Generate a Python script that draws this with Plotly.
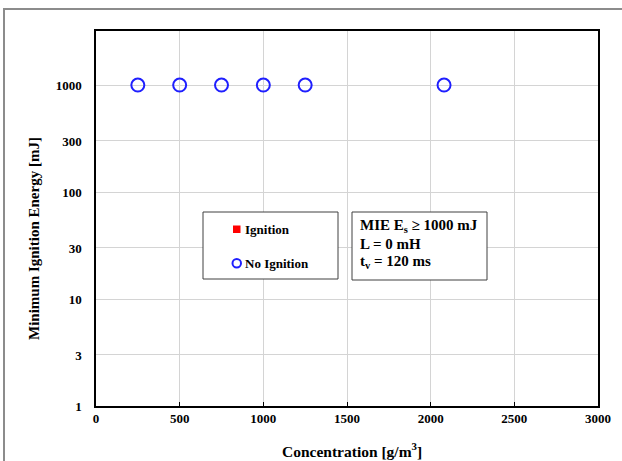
import plotly.graph_objects as go

# Dust explosion test series: concentration vs. ignition energy
ign_conc = []            # g/m3, tests that ignited
ign_energy = []          # mJ
no_ign_conc = [250, 500, 750, 1000, 1250, 2080]   # g/m3, tests without ignition
no_ign_energy = [1000, 1000, 1000, 1000, 1000, 1000]  # mJ

y_ticks = [1, 3, 10, 30, 100, 300, 1000]
x_ticks = [0, 500, 1000, 1500, 2000, 2500, 3000]

SERIF = "Liberation Serif, Times New Roman, serif"
RED = "#ff0000"
BLUE = "#1f1fff"

fig = go.Figure()
fig.add_trace(go.Scatter(
    x=ign_conc, y=ign_energy, mode="markers", name="Ignition",
    showlegend=False,
    marker=dict(symbol="square", size=8, color=RED),
))
fig.add_trace(go.Scatter(
    x=no_ign_conc, y=no_ign_energy, mode="markers", name="No Ignition",
    showlegend=False,
    marker=dict(symbol="circle-open", size=13, color=BLUE,
                line=dict(width=2, color=BLUE)),
))

W, H = 622, 461
L, R, T, B = 96, 24, 31, 55
pw, ph = W - L - R, H - T - B


def px(x):
    return (x - L) / pw


def py(y):
    return 1 - (y - T) / ph


shapes = [
    # outer frame
    dict(type="rect", xref="paper", yref="paper",
         x0=px(4), x1=px(640), y0=py(9), y1=py(480),
         line=dict(color="#8c8c8c", width=2), layer="below"),
    # legend frame
    dict(type="rect", xref="paper", yref="paper",
         x0=px(203), x1=px(338), y0=py(212), y1=py(279),
         line=dict(color="#404040", width=1), fillcolor="white"),
    # legend keys
    dict(type="rect", xref="paper", yref="paper",
         x0=px(233), x1=px(240.5), y0=py(225.5), y1=py(233),
         line=dict(width=0), fillcolor=RED),
    dict(type="circle", xref="paper", yref="paper",
         x0=px(232.5), x1=px(241), y0=py(259), y1=py(267.5),
         line=dict(color=BLUE, width=2)),
    # condition box
    dict(type="rect", xref="paper", yref="paper",
         x0=px(352), x1=px(487), y0=py(212), y1=py(280),
         line=dict(color="#404040", width=1), fillcolor="white"),
]


def note(text, x, y, size, xanchor="left", angle=0):
    return dict(xref="paper", yref="paper", x=px(x), y=py(y),
                xanchor=xanchor, yanchor="middle", showarrow=False,
                textangle=angle, text=text,
                font=dict(family=SERIF, size=size, color="black",
                          weight="bold"))


annotations = [
    note("Ignition", 243, 229, 13),
    note("No Ignition", 243, 263, 13),
    note("MIE E<sub>s</sub> ≥ 1000 mJ", 358, 226, 15),
    note("L = 0 mH", 358, 244, 15),
    note("t<sub>v</sub> = 120 ms", 358, 262, 15),
    note("Concentration [g/m<sup>3</sup>]", 352, 450, 15.5, xanchor="center"),
    note("Minimum Ignition Energy [mJ]", 34, 239, 15, xanchor="center", angle=-90),
]

fig.update_layout(
    width=W, height=H,
    margin=dict(l=L, r=R, t=T, b=B),
    paper_bgcolor="white", plot_bgcolor="white",
    font=dict(family=SERIF, color="black"),
    shapes=shapes,
    annotations=annotations,
    showlegend=False,
)

fig.update_xaxes(
    range=[0, 3000], tickvals=x_ticks,
    tickfont=dict(family=SERIF, size=13, weight="bold"),
    showgrid=True, gridcolor="#d4d4d4", gridwidth=1,
    showline=True, linecolor="black", linewidth=1.5, mirror=True,
    ticks="inside", ticklen=4, tickcolor="black",
    zeroline=False,
)
fig.update_yaxes(
    type="log", range=[0, 3.505], tickvals=y_ticks,
    tickfont=dict(family=SERIF, size=13, weight="bold"),
    showgrid=True, gridcolor="#d4d4d4", gridwidth=1,
    showline=True, linecolor="black", linewidth=1.5, mirror=True,
    ticks="", ticklabelstandoff=10,
    zeroline=False,
)

fig.write_html("out.html")
